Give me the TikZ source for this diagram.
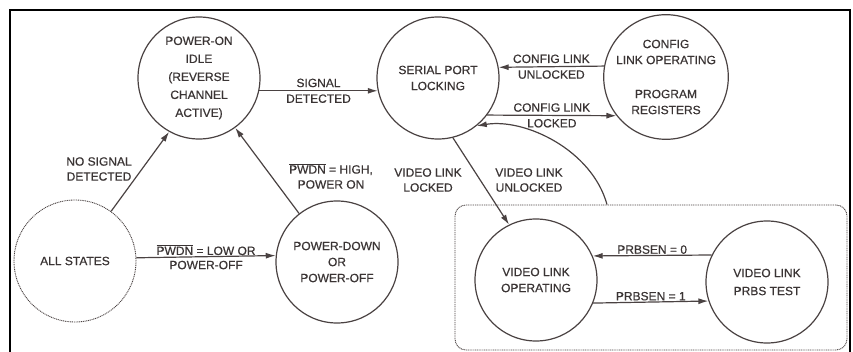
\documentclass[tikz,border=0pt]{standalone}
\usepackage{fontspec}
\setmainfont{Liberation Sans}[FakeBold=0.6]
\usetikzlibrary{arrows.meta}
\definecolor{ln}{HTML}{4A4242}
\definecolor{tx}{HTML}{3A3434}
\begin{document}
\begin{tikzpicture}[x=1pt,y=-1pt,
  state/.style={circle,draw=ln,line width=1.2pt,minimum size=122pt,inner sep=0pt,align=center,text=tx,font=\fontsize{12}{16}\selectfont},
  allst/.style={state,draw=ln,line width=0.9pt,dash pattern=on 1pt off 0.8pt},
  lbl/.style={text=tx,font=\fontsize{12}{15}\selectfont,align=center,inner sep=3pt},
  arr/.style={draw=ln,line width=1.2pt,-{Latex[length=10pt,width=6pt]}},
  dotbox/.style={draw=ln,line width=0.9pt,dash pattern=on 1pt off 0.8pt,rounded corners=11pt}]
\useasboundingbox (0,0) rectangle (853,352);
% outer frame
\draw[black,line width=1.2pt] (10,370) -- (10,10) -- (850,10) -- (850,370);
% dotted group box
\node[dotbox,minimum width=392pt,minimum height=145pt,inner sep=0pt] (grp) at (651,277.5) {};
% states
\node[state,font=\fontsize{12}{18}\selectfont] (poweron) at (199,78) {POWER-ON\\IDLE\\(REVERSE\\CHANNEL\\ACTIVE)};
\node[state] (serial) at (438,78) {SERIAL PORT\\LOCKING};
\node[state] (config) at (666,77) {CONFIG\\LINK OPERATING\\[18pt]PROGRAM\\REGISTERS};
\node[allst] (all) at (75,261) {ALL STATES};
\node[state] (pdown) at (337,262) {POWER-DOWN\\OR\\POWER-OFF};
\node[state] (vop) at (536,280) {VIDEO LINK\\OPERATING};
\node[state,font=\fontsize{12}{18}\selectfont] (prbs) at (767,282) {VIDEO LINK\\PRBS TEST};
% transitions
\draw[arr] (poweron.-12.3) -- node[lbl,above]{SIGNAL} node[lbl,below]{DETECTED} (serial.192.3);
\draw[arr] (config.170.6) -- node[lbl,above]{CONFIG LINK} node[lbl,below]{UNLOCKED} (serial.10.4);
\draw[arr] (serial.-37.3) -- node[lbl,above]{CONFIG LINK} node[lbl,below]{LOCKED} (config.218.5);
\draw[arr] (all.54.9) -- (poweron.241.5);
\node[lbl] (l1) at (99,169) {NO SIGNAL\\DETECTED};
\draw[arr] (pdown.128.5) -- (poweron.-54.7);
\node[lbl] (l2) at (331,176) {$\overline{\mbox{PWDN}}$ = HIGH,\\POWER ON};
\draw[arr] (all.3.8) -- node[lbl,above,inner sep=1pt]{$\overline{\mbox{PWDN}}$ = LOW OR} node[lbl,below,inner sep=3.5pt]{POWER-OFF} (pdown.174.4);
\draw[arr] (serial.-76.9) -- (vop.116.2);
\node[lbl] (l3) at (428,180) {VIDEO LINK\\LOCKED};
\draw[arr] ([xshift=-44pt]grp.north) .. controls (592,150) and (525,118) .. (serial.-51.3);
\node[lbl] (l4) at (529,180) {VIDEO LINK\\UNLOCKED};
\draw[arr] (prbs.154.2) -- node[lbl,above,inner sep=1pt]{PRBSEN = 0} (vop.23.2);
\draw[arr] (vop.-22.2) -- node[lbl,above,inner sep=1pt]{PRBSEN = 1} (prbs.198.8);
\end{tikzpicture}
\end{document}
